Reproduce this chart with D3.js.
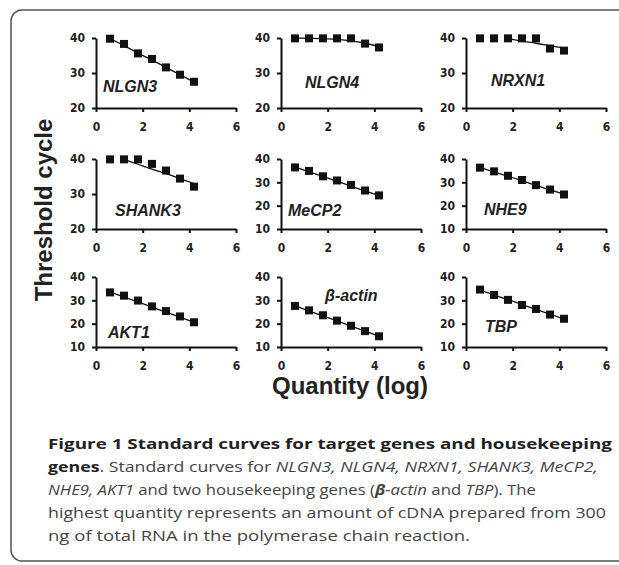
<!DOCTYPE html>
<html lang="en">
<head>
	<meta charset="UTF-8">
	<title>Standard curves</title>
</head>
<style>
	body { margin: 0; background: #fff; }
	.tick text { font-family: "Liberation Sans Narrow", "DejaVu Sans Condensed", sans-serif; font-stretch: condensed; font-weight: bold; font-size: 12px; fill: #222; }
	.axis path, .axis line { stroke: #111; stroke-width: 2; }
	.gene { font-family: "Liberation Sans", Arial, sans-serif; font-weight: bold; font-style: italic; font-size: 16px; fill: #222; }
	.title { font-family: "Liberation Sans", Arial, sans-serif; font-weight: bold; font-size: 24px; fill: #222; }
	.caption { font-family: "Open Sans", sans-serif; font-size: 15px; fill: #444; }
</style>
<body>
<svg class="chart"></svg>
<script src="https://d3js.org/d3.v7.min.js"></script>
<script type="text/javascript">
	// log quantity of the 4-fold dilution series
	var quantityLog = [0.6, 1.2, 1.8, 2.4, 3.0, 3.6, 4.2];
	var xTicks = [0, 2, 4, 6];

	var genes = ["NLGN3", "NLGN4", "NRXN1", "SHANK3", "MeCP2", "NHE9", "AKT1", "\u03b2-actin", "TBP"];

	// threshold cycles (markers)
	var ctNLGN3  = [39.8, 38.3, 35.6, 34.0, 31.6, 29.5, 27.5];
	var ctNLGN4  = [39.9, 39.9, 39.9, 39.9, 39.9, 38.4, 37.3];
	var ctNRXN1  = [39.9, 39.9, 39.9, 39.9, 39.9, 37.0, 36.4];
	var ctSHANK3 = [39.9, 39.9, 39.9, 38.6, 36.7, 34.4, 32.1];
	var ctMeCP2  = [36.4, 34.9, 32.6, 30.8, 28.9, 26.5, 24.4];
	var ctNHE9   = [36.3, 34.7, 32.8, 31.0, 28.8, 26.9, 24.8];
	var ctAKT1   = [33.4, 32.0, 29.9, 27.4, 25.4, 23.1, 20.6];
	var ctActin  = [27.6, 25.7, 23.6, 21.3, 19.1, 16.8, 14.6];
	var ctTBP    = [34.6, 32.3, 30.2, 28.0, 26.3, 23.9, 22.1];

	// trend lines as drawn (null = no line there)
	var fitNLGN3  = [39.9, 37.8, 35.7, 33.7, 31.6, 29.5, 27.4];
	var fitNLGN4  = [40.0, 39.9, 39.8, 39.6, 39.2, 38.5, 37.5];
	var fitNRXN1  = [null, null, 39.8, 39.1, 38.5, 37.8, 37.1];
	var fitSHANK3 = [null, 39.9, 38.5, 37.1, 35.8, 34.4, 33.0];
	var fitMeCP2  = [36.6, 34.5, 32.5, 30.4, 28.4, 26.3, 24.3];
	var fitNHE9   = [36.4, 34.5, 32.6, 30.7, 28.7, 26.8, 24.9];
	var fitAKT1   = [33.6, 31.4, 29.3, 27.1, 24.9, 22.8, 20.6];
	var fitActin  = [27.7, 25.5, 23.3, 21.2, 19.0, 16.8, 14.6];
	var fitTBP    = [34.4, 32.3, 30.3, 28.2, 26.1, 24.1, 22.0];

	// y ranges and ticks
	var yDomains = [[20, 40], [20, 40], [20, 40], [20, 40], [10, 40], [10, 40], [10, 40], [10, 40], [10, 40]];
	var yTicksShort = [20, 30, 40];
	var yTicksLong = [10, 20, 30, 40];

	var cts = [ctNLGN3, ctNLGN4, ctNRXN1, ctSHANK3, ctMeCP2, ctNHE9, ctAKT1, ctActin, ctTBP];
	var fits = [fitNLGN3, fitNLGN4, fitNRXN1, fitSHANK3, fitMeCP2, fitNHE9, fitAKT1, fitActin, fitTBP];

	// layout
	var colX = [96, 281, 466],
	    rowY = [38, 159, 277],
	    pw = 140,
	    ph = 70;
	// gene label offsets inside each panel (px from axis origin top-left)
	var labelPos = [[7, 54], [24, 50], [25, 48], [19, 57], [7, 57], [18, 56], [12, 61], [44, 24], [19, 55]];

	var svg = d3.select(".chart")
	    .attr("width", 619)
	    .attr("height", 565);

	svg.append("rect")
	    .attr("x", 11).attr("y", 10)
	    .attr("width", 660).attr("height", 551)
	    .attr("rx", 11)
	    .attr("fill", "none")
	    .attr("stroke", "#555")
	    .attr("stroke-width", 1.5);

	genes.forEach(function(name, i) {
		var g = svg.append("g")
		    .attr("transform", "translate(" + colX[i % 3] + "," + rowY[Math.floor(i / 3)] + ")");

		var x = d3.scaleLinear().domain([0, 6]).range([0, pw]);
		var y = d3.scaleLinear().domain(yDomains[i]).range([ph, 0]);

		g.append("g")
		    .attr("class", "axis")
		    .attr("transform", "translate(0," + ph + ")")
		    .call(d3.axisBottom(x).tickValues(xTicks).tickFormat(d3.format("d"))
		        .tickSize(4).tickSizeOuter(0).tickPadding(10));

		g.append("g")
		    .attr("class", "axis")
		    .call(d3.axisLeft(y).tickValues(yDomains[i][0] === 20 ? yTicksShort : yTicksLong)
		        .tickFormat(d3.format("d")).tickSize(4).tickSizeOuter(0).tickPadding(7));

		var line = d3.line()
		    .defined(function(d) { return d[1] !== null; })
		    .x(function(d) { return x(d[0]); })
		    .y(function(d) { return y(d[1]); })
		    .curve(d3.curveMonotoneX);

		g.append("path")
		    .datum(quantityLog.map(function(q, k) { return [q, fits[i][k]]; }))
		    .attr("d", line)
		    .attr("fill", "none")
		    .attr("stroke", "#111")
		    .attr("stroke-width", 1.3);

		g.selectAll("rect.pt")
		    .data(quantityLog.map(function(q, k) { return [q, cts[i][k]]; }))
		    .enter().append("rect")
		    .attr("class", "pt")
		    .attr("x", function(d) { return x(d[0]) - 4; })
		    .attr("y", function(d) { return y(d[1]) - 4; })
		    .attr("width", 8)
		    .attr("height", 8)
		    .attr("fill", "#111");

		g.append("text")
		    .attr("class", "gene")
		    .attr("x", labelPos[i][0])
		    .attr("y", labelPos[i][1])
		    .text(name);
	});

	svg.append("text")
	    .attr("class", "title")
	    .attr("transform", "translate(52,210) rotate(-90)")
	    .attr("text-anchor", "middle")
	    .text("Threshold cycle");

	svg.append("text")
	    .attr("class", "title")
	    .attr("x", 350)
	    .attr("y", 394)
	    .attr("text-anchor", "middle")
	    .text("Quantity (log)");

	// caption
	var captionLines = [
		[["Figure 1 Standard curves for target genes and housekeeping", "b"]],
		[["genes", "b"], [". Standard curves for ", ""], ["NLGN3, NLGN4, NRXN1, SHANK3, MeCP2,", "i"]],
		[["NHE9, AKT1", "i"], [" and two housekeeping genes (", ""], ["\u03b2", "bi"], ["-actin", "i"], [" and ", ""], ["TBP", "i"], ["). The", ""]],
		[["highest quantity represents an amount of cDNA prepared from 300", ""]],
		[["ng of total RNA in the polymerase chain reaction.", ""]]
	];
	var captionWidths = [564, 550, 488, 558, 422];

	captionLines.forEach(function(parts, i) {
		var t = svg.append("text")
		    .attr("class", "caption")
		    .attr("x", 48)
		    .attr("y", 449 + i * 23)
		    .attr("textLength", captionWidths[i])
		    .attr("lengthAdjust", "spacingAndGlyphs");
		parts.forEach(function(p) {
			t.append("tspan")
			    .attr("font-weight", p[1].indexOf("b") >= 0 ? "bold" : null)
			    .attr("font-style", p[1].indexOf("i") >= 0 ? "italic" : null)
			    .attr("fill", p[1] === "b" ? "#222" : null)
			    .text(p[0]);
		});
	});
</script>
</body>
</html>
